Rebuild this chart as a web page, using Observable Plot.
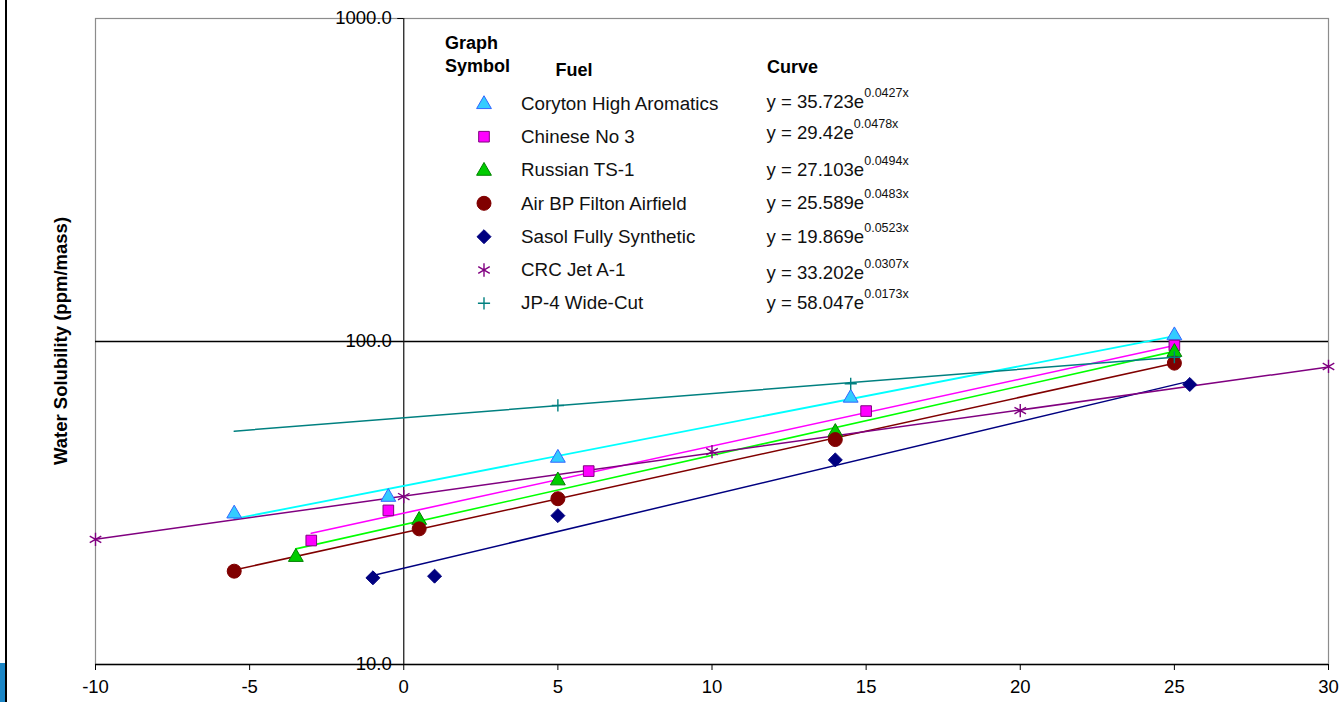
<!DOCTYPE html>
<html>
<head>
<meta charset="utf-8">
<script src="https://cdn.jsdelivr.net/npm/d3@7"></script>
<script src="https://cdn.jsdelivr.net/npm/@observablehq/plot@0.6"></script>
<style>
  html, body { margin: 0; padding: 0; background: #fff; }
  #wrap { position: relative; width: 1344px; height: 702px; overflow: hidden; font-family: "Liberation Sans", Arial, sans-serif; }
  #overlay { position: absolute; left: 0; top: 0; pointer-events: none; }
  #edge { position: absolute; left: 5px; top: 0; width: 2px; height: 702px; background: #000; }
  #corner { position: absolute; left: 0; top: 663px; width: 5px; height: 39px; background: #1b86c6; }
</style>
</head>
<body>
<div id="wrap"><div id="edge"></div><div id="corner"></div></div>
<script>
// ---------- data ----------
const fuels = ["Coryton High Aromatics", "Chinese No 3", "Russian TS-1", "Air BP Filton Airfield", "Sasol Fully Synthetic", "CRC Jet A-1", "JP-4 Wide-Cut"];
const fitA = [35.723, 29.42, 27.103, 25.589, 19.869, 33.202, 58.047];
const fitB = [0.0427, 0.0478, 0.0494, 0.0483, 0.0523, 0.0307, 0.0173];
const fitA_text = ["35.723", "29.42", "27.103", "25.589", "19.869", "33.202", "58.047"];
const fitB_text = ["0.0427", "0.0478", "0.0494", "0.0483", "0.0523", "0.0307", "0.0173"];
const fitXmin = [-5.5, -3, -3.5, -5.5, -1, -10, -5.5];
const fitXmax = [25, 25, 25, 25, 25.5, 30, 25];

const corytonX = [-5.5, -0.5, 5, 14.5, 25];
const corytonY = [29.3, 33.0, 43.6, 66.9, 104.4];
const chineseX = [-3, -0.5, 6, 15, 25];
const chineseY = [24.2, 30.0, 39.7, 60.9, 97.2];
const russianX = [-3.5, 0.5, 5, 14, 25];
const russianY = [21.5, 28.0, 37.1, 52.4, 92.7];
const airbpX = [-5.5, 0.5, 5, 14, 25];
const airbpY = [19.45, 26.3, 32.6, 49.7, 85.7];
const sasolX = [-1, 1, 5, 14, 25.5];
const sasolY = [18.55, 18.77, 28.9, 43.0, 73.6];
const crcX = [-10, 0, 10, 20, 30];
const crcY = [24.4, 33.1, 45.6, 61.1, 83.7];
const jp4X = [5, 14.5, 25];
const jp4Y = [63.4, 74.0, 89.4];

const xTicks = [-10, -5, 0, 5, 10, 15, 20, 25, 30];
const yTicks = [10, 100, 1000];
const yLabel = "Water Solubility (ppm/mass)";
const legendHead = ["Graph", "Symbol", "Fuel", "Curve"];

// ---------- styles ----------
const styles = [
  {symbol: "triangle", r: 5.5, fill: "#33ccff", stroke: "#3366ff", line: "#00ffff", lw: 1.8},
  {symbol: "square", r: 6.0, fill: "#ff00ff", stroke: "#800080", line: "#ff00ff", lw: 1.6},
  {symbol: "triangle", r: 5.5, fill: "#00cc00", stroke: "#008000", line: "#00ff00", lw: 1.6},
  {symbol: "circle", r: 7, fill: "#800000", stroke: "#800000", line: "#800000", lw: 1.5},
  {symbol: "diamond2", r: 6.3, fill: "#000080", stroke: "#000080", line: "#000080", lw: 1.5},
  {symbol: "asterisk", r: 6.3, fill: "none", stroke: "#800080", line: "#800080", lw: 1.5},
  {symbol: "plus", r: 4.0, fill: "none", stroke: "#008080", line: "#008080", lw: 1.5}
];
const d3Symbols = {triangle: d3.symbolTriangle, square: d3.symbolSquare, circle: d3.symbolCircle, diamond2: d3.symbolDiamond2, asterisk: d3.symbolAsterisk, plus: d3.symbolPlus};

const seriesX = [corytonX, chineseX, russianX, airbpX, sasolX, crcX, jp4X];
const seriesY = [corytonY, chineseY, russianY, airbpY, sasolY, crcY, jp4Y];

// ---------- build tables ----------
const points = [];
seriesX.forEach((xs, i) => xs.forEach((x, j) => points.push({fuel: i, x, y: seriesY[i][j]})));
// trend lines from the displayed fit equations (straight on a log axis)
const trend = [];
fuels.forEach((f, i) => {
  [fitXmin[i], fitXmax[i]].forEach(x => trend.push({fuel: i, x, y: fitA[i] * Math.exp(fitB[i] * x)}));
});

const W = 1344, H = 702, mL = 95, mR = 16, mT = 18, mB = 38;
const xScale = d3.scaleLinear([-10, 30], [mL, W - mR]);
const axisDx = xScale(0) - xScale(-10);

const lineMarks = fuels.map((f, i) => Plot.line(trend.filter(d => d.fuel === i), {x: "x", y: "y", stroke: styles[i].line, strokeWidth: styles[i].lw}));
const dotMarks = fuels.map((f, i) => Plot.dot(points.filter(d => d.fuel === i), {
  x: "x", y: "y", symbol: () => styles[i].symbol, r: styles[i].r,
  fill: styles[i].fill, stroke: styles[i].stroke,
  strokeWidth: styles[i].fill === "none" ? 1.4 : 1
}));

const chart = Plot.plot({
  width: W, height: H, marginLeft: mL, marginRight: mR, marginTop: mT, marginBottom: mB,
  x: {domain: [-10, 30]},
  y: {type: "log", domain: [10, 1000]},
  symbol: {type: "identity"},
  style: {fontFamily: "'Liberation Sans', Arial, sans-serif", fontSize: "18.5px", background: "transparent", color: "#000"},
  marks: [
    Plot.frame({stroke: "#8c8c8c", strokeWidth: 1.2}),
    Plot.ruleY([100], {stroke: "#000", strokeWidth: 1.3}),
    Plot.ruleY([10], {stroke: "#000", strokeWidth: 1.6}),
    Plot.ruleX([0], {stroke: "#222", strokeWidth: 1.3}),
    Plot.axisX({ticks: xTicks, tickFormat: d => String(d), tickSize: 6, tickPadding: 9, label: null, fontSize: 18.5, stroke: "#000"}),
    Plot.axisY({ticks: yTicks, tickFormat: d => d.toFixed(1), tickSize: 6, tickPadding: 6, dx: axisDx, label: null, fontSize: 18.5}),
    ...lineMarks,
    ...dotMarks
  ]
});
const wrap = document.getElementById("wrap");
chart.style.position = "absolute";
chart.style.left = "0px";
chart.style.top = "0px";
wrap.appendChild(chart);

// ---------- legend & axis title overlay ----------
const ov = d3.select(wrap).append("svg").attr("id", "overlay").attr("width", W).attr("height", H)
  .style("font-family", "'Liberation Sans', Arial, sans-serif");

ov.append("text")
  .attr("transform", `translate(${mL - 28.5},${(mT + H - mB) / 2}) rotate(-90)`)
  .attr("text-anchor", "middle").attr("font-weight", "bold").attr("font-size", 18.5)
  .text(yLabel);

const head = ov.append("g").attr("font-weight", "bold").attr("font-size", 18).attr("fill", "#000");
head.append("text").attr("x", 445).attr("y", 48.5).text(legendHead[0]);
head.append("text").attr("x", 445).attr("y", 72).text(legendHead[1]);
head.append("text").attr("x", 555.5).attr("y", 76).text(legendHead[2]);
head.append("text").attr("x", 767).attr("y", 72.5).text(legendHead[3]);

const rowY = [103.3, 136.7, 170, 203.3, 236.7, 270, 303.3];
const nameBase = [110, 143, 176.3, 209.5, 243, 275.5, 308.7];
const eqBase = [107.5, 139.3, 176, 209, 242.5, 279, 309];
fuels.forEach((f, i) => {
  const s = styles[i];
  const sym = d3.symbol(d3Symbols[s.symbol], Math.PI * s.r * s.r)();
  ov.append("path").attr("d", sym).attr("transform", `translate(484,${rowY[i] + (s.symbol === "triangle" ? 1 : 0)})`)
    .attr("fill", s.fill).attr("stroke", s.stroke).attr("stroke-width", s.fill === "none" ? 1.4 : 1);
  ov.append("text").attr("x", 521).attr("y", nameBase[i]).attr("font-size", 18.8).attr("fill", "#111").text(f);
  const t = ov.append("text").attr("x", 766.5).attr("y", eqBase[i]).attr("font-size", 18.6).attr("fill", "#111");
  t.append("tspan").text(`y = ${fitA_text[i]}e`);
  t.append("tspan").attr("font-size", 12.5).attr("dy", -11).text(`${fitB_text[i]}x`);
});
</script>
</body>
</html>
